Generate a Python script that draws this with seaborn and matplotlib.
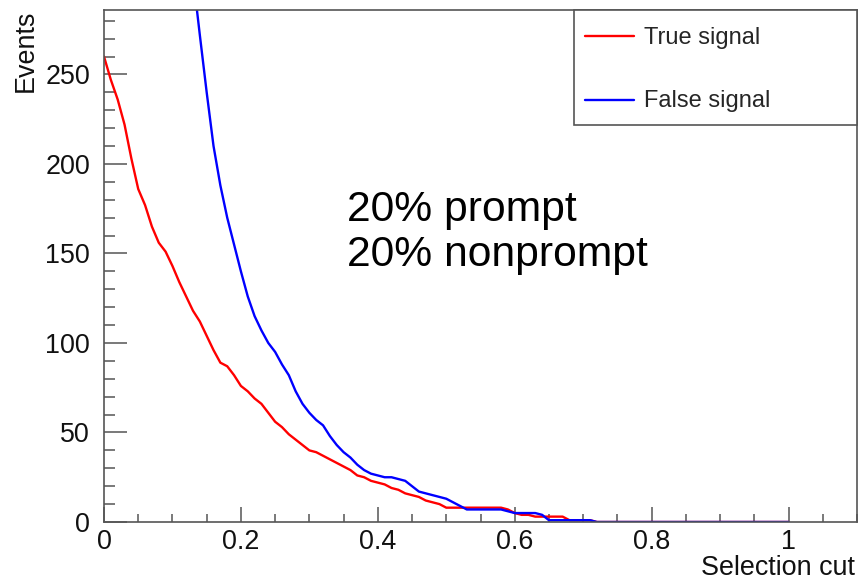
import numpy as np
import pandas as pd
import matplotlib
matplotlib.use("Agg")
import matplotlib.pyplot as plt
from matplotlib.lines import Line2D
from matplotlib.legend_handler import HandlerLine2D
from matplotlib.ticker import MultipleLocator
import seaborn as sns

# ---- data: events vs selection cut, sampled every 0.01 from 0 to 1 ----
cut_start = 0.0
cut_step = 0.01
true_signal = [
    260, 247, 236, 222, 203, 186, 177, 165, 156, 151,
    143, 134, 126, 118, 112, 104, 96, 89, 87, 82,
    76, 73, 69, 66, 61, 56, 53, 49, 46, 43,
    40, 39, 37, 35, 33, 31, 29, 26, 25, 23,
    22, 21, 19, 18, 16, 15, 14, 12, 11, 10,
    8, 8, 8, 8, 8, 8, 8, 8, 8, 7,
    5, 4, 4, 3, 3, 3, 3, 3, 1, 1,
    1, 1, 0, 0, 0, 0, 0, 0, 0, 0,
    0, 0, 0, 0, 0, 0, 0, 0, 0, 0,
    0, 0, 0, 0, 0, 0, 0, 0, 0, 0,
    0,
]
false_signal = [
    1100, 950, 830, 730, 640, 570, 510, 460, 420, 385,
    355, 330, 320, 305, 272, 240, 210, 188, 170, 155,
    140, 126, 115, 107, 100, 95, 88, 82, 73, 66,
    61, 57, 54, 48, 43, 39, 36, 32, 29, 27,
    26, 25, 25, 24, 23, 20, 17, 16, 15, 14,
    13, 11, 9, 7, 7, 7, 7, 7, 7, 6,
    5, 5, 5, 5, 4, 1, 1, 1, 1, 1,
    1, 1, 0, 0, 0, 0, 0, 0, 0, 0,
    0, 0, 0, 0, 0, 0, 0, 0, 0, 0,
    0, 0, 0, 0, 0, 0, 0, 0, 0, 0,
    0,
]
series_names = ["True signal", "False signal"]
series_colors = {"True signal": "#ff0000", "False signal": "#0000ff"}
x_ticks = [0, 0.2, 0.4, 0.6, 0.8, 1.0]
x_tick_labels = ["0", "0.2", "0.4", "0.6", "0.8", "1"]
y_ticks = [0, 50, 100, 150, 200, 250]
y_tick_labels = ["0", "50", "100", "150", "200", "250"]
annotation_lines = ["20% prompt", "20% nonprompt"]

# ---- long table ----
rows = []
for name, vals in zip(series_names, [true_signal, false_signal]):
    xs = np.round(cut_start + cut_step * np.arange(len(vals)), 4)
    for xv, yv in zip(xs, vals):
        rows.append({"cut": xv, "events": yv, "series": name})
df = pd.DataFrame(rows)

sns.set_style("white")
plt.rcParams["font.family"] = ["Liberation Sans", "DejaVu Sans"]

W, H = 858, 581
fig = plt.figure(figsize=(W / 100, H / 100), dpi=100)
ax = fig.add_axes([104 / W, 1 - 522 / H, (857 - 104) / W, (522 - 10) / H])

sns.lineplot(data=df, x="cut", y="events", hue="series", hue_order=series_names,
             palette=series_colors, estimator=None, sort=True,
             linewidth=1.7, legend=False, ax=ax)

ax.set_xlim(0, 1.1)
ax.set_ylim(0, 286)

spine_col = "#555555"
for s in ax.spines.values():
    s.set_color(spine_col)
    s.set_linewidth(1.2)
    s.set_visible(True)

ax.set_xticks(x_ticks)
ax.set_xticklabels(x_tick_labels)
ax.set_yticks(y_ticks)
ax.set_yticklabels(y_tick_labels)
ax.xaxis.set_minor_locator(MultipleLocator(0.05))
ax.yaxis.set_minor_locator(MultipleLocator(10))
ax.tick_params(axis="x", which="major", direction="in", length=10.8, width=1.1,
               color=spine_col, labelsize=19.4, pad=5, labelcolor="#111111")
ax.tick_params(axis="x", which="minor", direction="in", length=5.6, width=1.1,
               color=spine_col)
ax.tick_params(axis="y", which="major", direction="in", length=16.5, width=1.1,
               color=spine_col, labelsize=19.4, pad=10, labelcolor="#111111")
ax.tick_params(axis="y", which="minor", direction="in", length=8, width=1.1,
               color=spine_col)
ax.tick_params(bottom=True, left=True, top=False, right=False, which="both")

ax.set_xlabel("Selection cut", fontsize=19.4, ha="right", va="baseline",
              color="#111111")
ax.xaxis.set_label_coords((855 - 104) / 753, (522 - 575) / 512)
ax.set_ylabel("Events", fontsize=19.4, ha="right", va="baseline",
              color="#111111")
ax.yaxis.set_label_coords((33 - 104) / 753, 1.0)

ax.text(0.355, 168, annotation_lines[0], fontsize=30.7, va="baseline", ha="left",
        color="black")
ax.text(0.355, 143, annotation_lines[1], fontsize=30.7, va="baseline", ha="left",
        color="black")


class CenteredLine(HandlerLine2D):
    """Legend line handler that lowers the sample line to the text's middle."""
    def create_artists(self, legend, orig_handle, xdescent, ydescent, width,
                       height, fontsize, trans):
        arts = super().create_artists(legend, orig_handle, xdescent, ydescent,
                                      width, height, fontsize, trans)
        for a in arts:
            a.set_ydata(np.asarray(a.get_ydata(), dtype=float) - 3.0)
        return arts


handles = [Line2D([0], [0], color=series_colors[n], lw=1.7) for n in series_names]
leg = ax.legend(handles, series_names, loc="upper left",
                bbox_to_anchor=((574 - 104) / (857 - 104), 1.0,
                                (857 - 574) / (857 - 104), 0.0),
                mode="expand", fontsize=17, frameon=True, fancybox=False,
                handlelength=2.08, handleheight=1.6, handletextpad=0.45,
                labelspacing=1.4, borderpad=0.45, borderaxespad=0.0,
                edgecolor=spine_col,
                handler_map={Line2D: CenteredLine()})
leg.get_frame().set_linewidth(1.2)
leg.get_frame().set_alpha(1)

fig.savefig("out.png", dpi=100)
